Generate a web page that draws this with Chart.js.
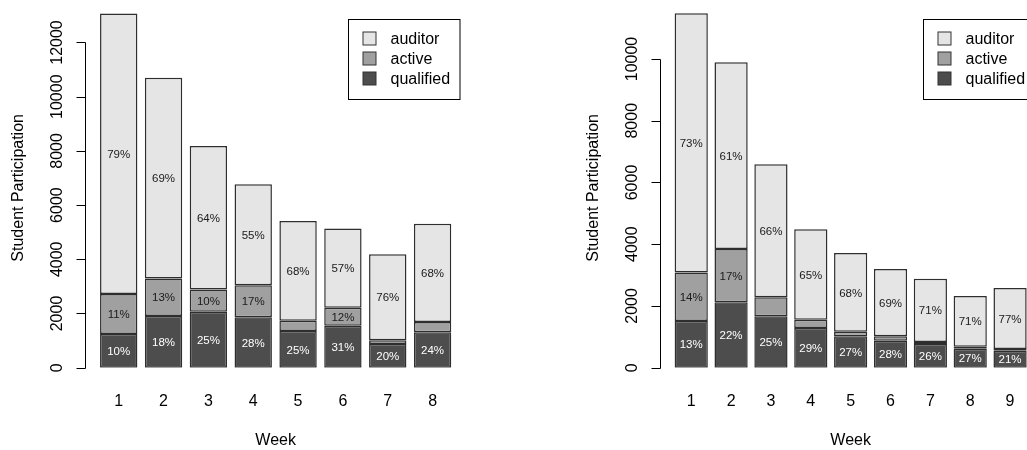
<!DOCTYPE html>
<html>
<head>
<meta charset="utf-8">
<script src="https://cdn.jsdelivr.net/npm/chart.js@4/dist/chart.umd.min.js"></script>
<style>
  body { margin: 0; background: #fff; }
  #wrap { position: relative; width: 1027px; height: 450px; overflow: hidden; background: #fff; }
  .panel { position: absolute; top: 0; width: 575px; height: 450px; }
  #panelLeft { left: 0; }
  #panelRight { left: 575px; }
</style>
</head>
<body>
<div id="wrap">
  <div class="panel" id="panelLeft"><canvas id="chartLeft" width="575" height="450"></canvas></div>
  <div class="panel" id="panelRight"><canvas id="chartRight" width="575" height="450"></canvas></div>
</div>
<script>
// ---- data: left panel (8 weeks) ----
const weeksLeft = ['1', '2', '3', '4', '5', '6', '7', '8'];
const qualifiedLeft = [1240, 1910, 2065, 1860, 1355, 1550, 875, 1305];
const activeLeft = [1480, 1385, 825, 1180, 380, 660, 135, 380];
const auditorLeft = [10350, 7400, 5295, 3725, 3675, 2930, 3180, 3625];
const qualifiedPctLeft = ['10%', '18%', '25%', '28%', '25%', '31%', '20%', '24%'];
const activePctLeft = ['11%', '13%', '10%', '17%', '', '12%', '', ''];
const auditorPctLeft = ['79%', '69%', '64%', '55%', '68%', '57%', '76%', '68%'];
const yTicksLeft = [0, 2000, 4000, 6000, 8000, 10000, 12000];

// ---- data: right panel (9 weeks) ----
const weeksRight = ['1', '2', '3', '4', '5', '6', '7', '8', '9'];
const qualifiedRight = [1515, 2120, 1665, 1285, 1015, 875, 770, 615, 550];
const activeRight = [1565, 1725, 615, 270, 150, 140, 65, 65, 55];
const auditorRight = [8400, 6050, 4310, 2930, 2550, 2180, 2050, 1645, 1975];
const qualifiedPctRight = ['13%', '22%', '25%', '29%', '27%', '28%', '26%', '27%', '21%'];
const activePctRight = ['14%', '17%', '', '', '', '', '', '', ''];
const auditorPctRight = ['73%', '61%', '66%', '65%', '68%', '69%', '71%', '71%', '77%'];
const yTicksRight = [0, 2000, 4000, 6000, 8000, 10000];

const FONT = '"Liberation Sans", Arial, Helvetica, sans-serif';
const COLORS = { qualified: '#4d4d4d', active: '#a0a0a0', auditor: '#e5e5e5' };

// R style y axis: line only between first and last tick, vertical labels
const rAxisPlugin = {
  id: 'rAxis',
  afterDraw(chart, args, opts) {
    const ctx = chart.ctx;
    const scale = chart.scales.y;
    const x0 = Math.round(chart.chartArea.left - 11) + 0.5;
    const ticks = opts.ticks;
    ctx.save();
    ctx.strokeStyle = '#000';
    ctx.lineWidth = 1;
    ctx.beginPath();
    ctx.moveTo(x0, Math.round(scale.getPixelForValue(ticks[0])) + 0.5);
    ctx.lineTo(x0, Math.round(scale.getPixelForValue(ticks[ticks.length - 1])) + 0.5);
    ticks.forEach(v => {
      const py = Math.round(scale.getPixelForValue(v)) + 0.5;
      ctx.moveTo(x0 - 9, py);
      ctx.lineTo(x0, py);
    });
    ctx.stroke();
    ctx.font = '16px ' + FONT;
    ctx.fillStyle = '#000';
    ctx.textAlign = 'center';
    ctx.textBaseline = 'middle';
    ticks.forEach(v => {
      ctx.save();
      ctx.translate(x0 - 28, scale.getPixelForValue(v));
      ctx.rotate(-Math.PI / 2);
      ctx.fillText(String(v), 0, 0);
      ctx.restore();
    });
    ctx.restore();
  }
};

// percent labels in the middle of each segment
const segLabelPlugin = {
  id: 'segLabels',
  afterDatasetsDraw(chart, args, opts) {
    const ctx = chart.ctx;
    ctx.save();
    ctx.font = '11.5px ' + FONT;
    ctx.textAlign = 'center';
    ctx.textBaseline = 'middle';
    chart.data.datasets.forEach((ds, i) => {
      const meta = chart.getDatasetMeta(i);
      meta.data.forEach((bar, j) => {
        const txt = opts.labels[i][j];
        if (!txt) return;
        const p = bar.getProps(['x', 'y', 'base'], true);
        ctx.fillStyle = ds.label === 'qualified' ? '#ffffff' : '#1a1a1a';
        ctx.fillText(txt, p.x, (p.y + p.base) / 2 + 1);
      });
    });
    ctx.restore();
  }
};

// boxed legend in the top right, R style
const boxLegendPlugin = {
  id: 'boxLegend',
  afterDraw(chart) {
    const ctx = chart.ctx;
    const left = chart.chartArea.right - 106.5;
    const top = 19.5;
    ctx.save();
    ctx.strokeStyle = '#000';
    ctx.lineWidth = 1;
    ctx.strokeRect(left, top, 111.5, 80);
    ctx.font = '16px ' + FONT;
    ctx.textAlign = 'left';
    ctx.textBaseline = 'middle';
    const items = chart.data.datasets.slice().reverse();
    items.forEach((ds, k) => {
      const cy = 38.5 + k * 20;
      ctx.fillStyle = ds.backgroundColor;
      ctx.fillRect(left + 14.5, cy - 6.5, 13, 13);
      ctx.strokeStyle = '#333';
      ctx.strokeRect(left + 14.5, cy - 6.5, 13, 13);
      ctx.fillStyle = '#000';
      ctx.fillText(ds.label, left + 42, cy + 1);
    });
    ctx.restore();
  }
};

function makeChart(canvasId, weeks, qualified, active, auditor, pcts, yTicks, yMax) {
  const ctx = document.getElementById(canvasId).getContext('2d');
  const common = { borderColor: '#2e2e2e', borderWidth: 1.5, borderSkipped: false, inflateAmount: 0,
                   barPercentage: 1, categoryPercentage: 1 / 1.2 };
  return new Chart(ctx, {
    type: 'bar',
    data: {
      labels: weeks,
      datasets: [
        Object.assign({ label: 'qualified', data: qualified, backgroundColor: COLORS.qualified }, common),
        Object.assign({ label: 'active', data: active, backgroundColor: COLORS.active }, common),
        Object.assign({ label: 'auditor', data: auditor, backgroundColor: COLORS.auditor }, common)
      ]
    },
    options: {
      responsive: false,
      animation: false,
      layout: { padding: { top: 8, right: 120, bottom: 0, left: 0 } },
      scales: {
        x: {
          stacked: true,
          grid: { display: false, drawTicks: false },
          border: { display: false },
          ticks: { color: '#000', padding: 24.4, font: { family: FONT, size: 16, lineHeight: 1.2 } },
          title: { display: true, text: 'Week', color: '#000',
                   padding: { top: -4.9, bottom: 0 },
                   font: { family: FONT, size: 16, lineHeight: 1.2 } }
        },
        y: {
          stacked: true,
          min: 0,
          max: yMax,
          grid: { display: false, drawTicks: false },
          border: { display: false },
          ticks: { display: false },
          title: { display: true, text: 'Student Participation', color: '#000',
                   padding: { top: 8.7, bottom: 68.4 },
                   font: { family: FONT, size: 16, lineHeight: 1.2 } }
        }
      },
      plugins: {
        legend: { display: false },
        tooltip: { enabled: false },
        rAxis: { ticks: yTicks },
        segLabels: { labels: pcts }
      }
    },
    plugins: [rAxisPlugin, segLabelPlugin, boxLegendPlugin]
  });
}

document.addEventListener('DOMContentLoaded', function() {
  makeChart('chartLeft', weeksLeft, qualifiedLeft, activeLeft, auditorLeft,
            [qualifiedPctLeft, activePctLeft, auditorPctLeft], yTicksLeft, 13273);
  makeChart('chartRight', weeksRight, qualifiedRight, activeRight, auditorRight,
            [qualifiedPctRight, activePctRight, auditorPctRight], yTicksRight, 11652);
});
</script>
</body>
</html>
